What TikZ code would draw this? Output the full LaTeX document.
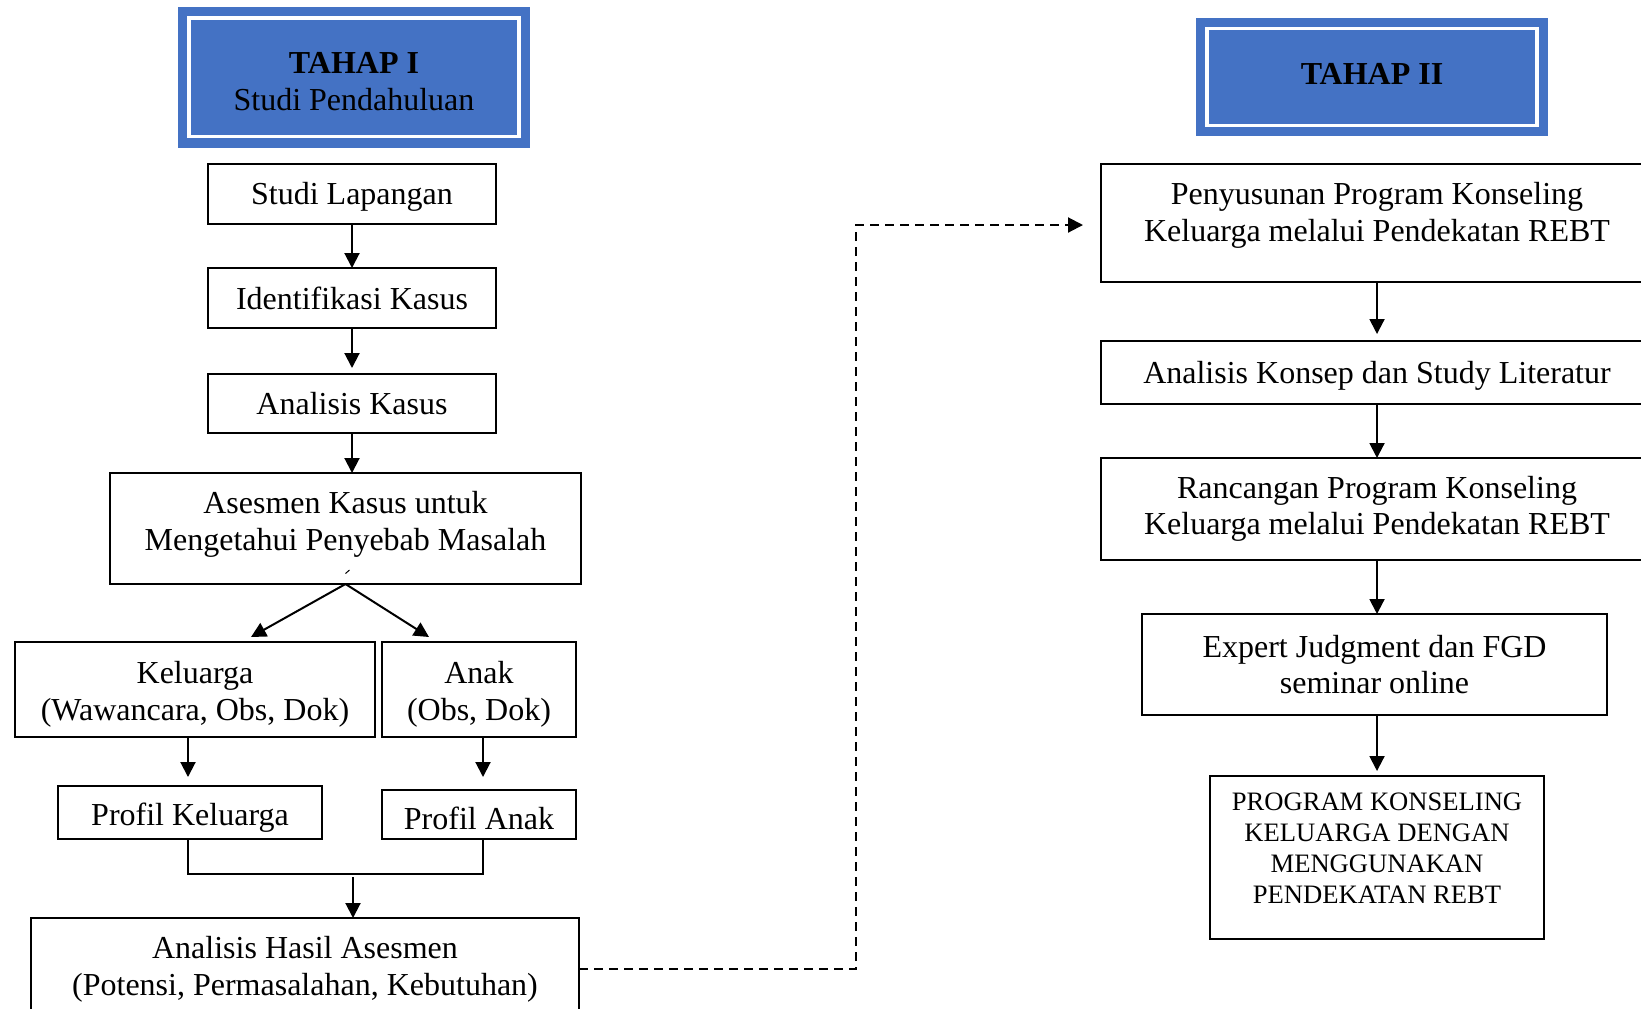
\documentclass[tikz,border=0pt]{standalone}
\usepackage{fontspec}
\setmainfont{Liberation Serif}
\usepackage{tikz}
\usetikzlibrary{positioning,arrows.meta}
\definecolor{tahapblue}{RGB}{68,114,196}

\tikzset{
  box/.style={draw, line width=0.9pt, outer sep=0pt, inner sep=2pt, align=center},
  textlow/.style={text height=#1, text depth=0pt},
  tahap/.style={fill=tahapblue, draw=tahapblue, double=white, double distance=1.7pt,
    line width=4.65pt, outer sep=0pt, align=center, minimum width=165pt},
  flow/.style={-{Triangle[length=7.5pt,width=7.5pt]}, line width=1pt}
}

\begin{document}
\begin{tikzpicture}[x=0.5pt, y=-0.5pt, font=\fontsize{16}{18.3}\selectfont]
  \useasboundingbox (0,0) rectangle (1641,1008);

  % tahap I
  \node[tahap, minimum height=59.35pt] (tahap1) at (354,77.4) {\mbox{}\\[-3.7pt]\textbf{TAHAP I}\\Studi Pendahuluan};
  \node[box, minimum width=144pt, minimum height=30pt, textlow=10.5pt] (studi) at (352,194) {Studi Lapangan};
  \node[box, minimum width=144pt, minimum height=30pt, below=22pt of studi] (identifikasi) {Identifikasi Kasus};
  \node[box, minimum width=144pt, minimum height=29.5pt, below=23pt of identifikasi] (analisis) {Analisis Kasus};
  \node[box, minimum width=235.5pt, minimum height=55.5pt, below=20pt of analisis, xshift=-3.25pt] (asesmen) {Asesmen Kasus untuk\\Mengetahui Penyebab Masalah\\[-10.9pt]\mbox{}};
  \node[box, minimum width=180pt, minimum height=47.5pt] (keluarga) at (195,689.5) {\mbox{}\\[-2.4pt]Keluarga\\(Wawancara, Obs, Dok)};
  \node[box, minimum width=97pt, minimum height=47.5pt, right=3.5pt of keluarga] (anak) {\mbox{}\\[-2.4pt]Anak\\(Obs, Dok)};
  \node[box, minimum width=132pt, minimum height=26.5pt, textlow=12.6pt] (pk) at (190,812.5) {Profil Keluarga};
  \node[box, minimum width=97pt, minimum height=24.5pt, textlow=14.9pt] (pa) at (479,814.5) {Profil Anak};
  \node[box, minimum width=274pt, minimum height=51pt] (hasil) at (305,969) {Analisis Hasil Asesmen\\(Potensi, Permasalahan, Kebutuhan)};

  \draw[flow] (studi) -- (identifikasi);
  \draw[flow, shorten >=3pt] (identifikasi) -- (analisis);
  \draw[flow] (analisis.south) -- (analisis.south |- asesmen.north);
  \coordinate (splitL) at (251,637);
  \coordinate (splitR) at (429,637);
  \draw[flow] (asesmen.south) -- (splitL);
  \draw[flow] (asesmen.south) -- (splitR);
  \draw[line width=0.5pt] (345.5,573.5) -- (349.5,570);
  \draw[flow] ([xshift=-1pt]keluarga.south -| pk.north) -- ([xshift=-1pt, yshift=4.5pt]pk.north);
  \draw[flow] ([xshift=2pt]anak.south -| pa.north) -- ([xshift=2pt, yshift=6.5pt]pa.north);
  \draw[line width=0.9pt] ([xshift=-1pt]pk.south) -- ++(0,35) -| ([xshift=2pt]pa.south);
  \coordinate (merge) at (353,877);
  \draw[flow] (merge) -- (merge |- hasil.north);

  % tahap II
  \node[tahap, minimum height=48.3pt, textlow=7.6pt] (tahap2) at (1372,77) {\textbf{TAHAP II}};
  \node[box, minimum width=276pt, minimum height=59pt] (penyusunan) at (1377,223) {Penyusunan Program Konseling\\Keluarga melalui Pendekatan REBT\\[-6.9pt]\mbox{}};
  \node[box, minimum width=276pt, minimum height=31.5pt, below=29.5pt of penyusunan, textlow=10.5pt] (konsep) {Analisis Konsep dan Study Literatur};
  \node[box, minimum width=276pt, minimum height=51pt, below=27pt of konsep] (rancangan) {Rancangan Program Konseling\\Keluarga melalui Pendekatan REBT};
  \node[box, minimum width=232.5pt, minimum height=50.5pt, below=27pt of rancangan, xshift=-1.25pt] (expert) {Expert Judgment dan FGD\\seminar online};
  \node[box, minimum width=167pt, minimum height=81.5pt, below=30.5pt of expert, xshift=1.25pt,
    font=\fontsize{13.3}{15.5}\selectfont] (program) {PROGRAM KONSELING\\KELUARGA DENGAN\\MENGGUNAKAN\\PENDEKATAN REBT\\[-6.5pt]\mbox{}};

  \draw[flow, shorten >=3.5pt] (penyusunan) -- (konsep);
  \draw[flow] (konsep) -- (rancangan);
  \draw[flow] (rancangan.south) -- (rancangan.south |- expert.north);
  \draw[flow, shorten >=2.5pt] (expert.south -| program.north) -- (program.north);

  % tahap I ke tahap II
  \coordinate (dashcorner) at (856,225);
  \draw[flow, dash pattern=on 4.5pt off 3pt] (hasil.east) -| (dashcorner) -- ([xshift=-9pt, yshift=-1pt]penyusunan.west);
\end{tikzpicture}
\end{document}
